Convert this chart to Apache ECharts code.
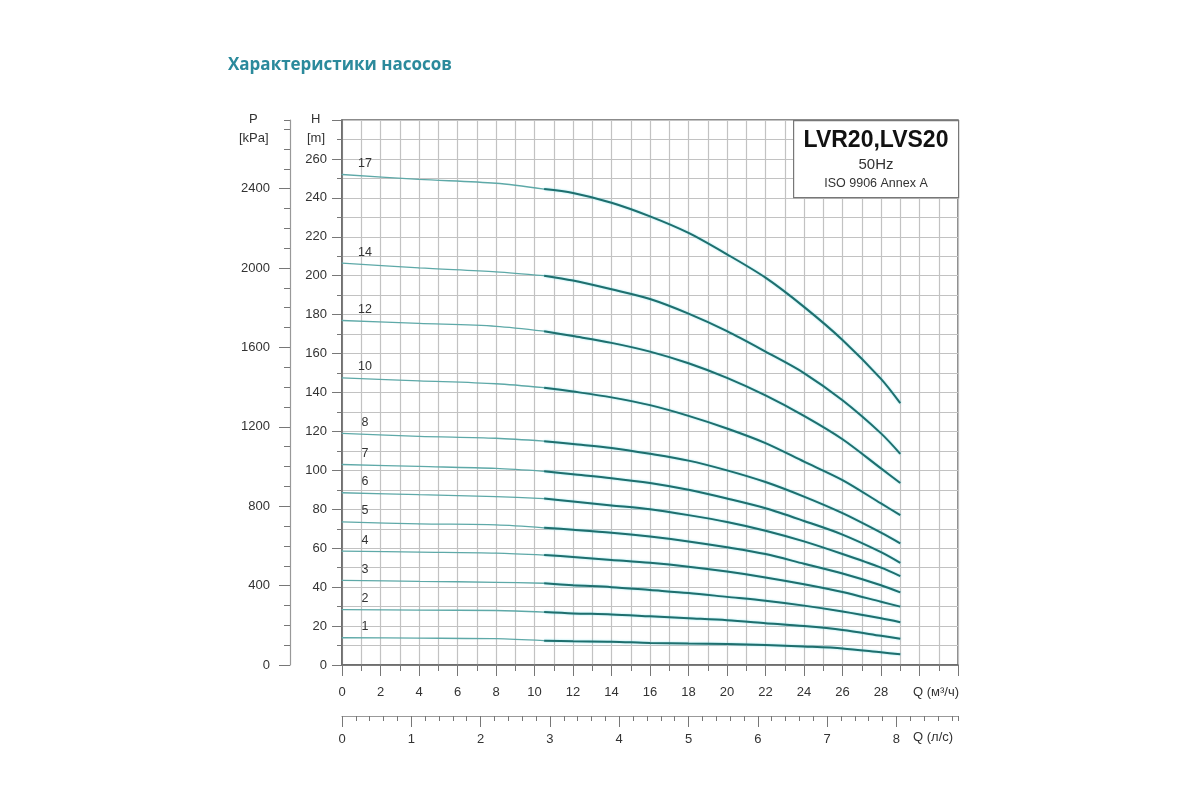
<!DOCTYPE html>
<html>
<head>
<meta charset="utf-8">
<script src="https://cdn.jsdelivr.net/npm/echarts@6/dist/echarts.min.js"></script>
<style>
  html, body { margin: 0; padding: 0; background: #fff; }
  #main { width: 1200px; height: 800px; }
</style>
</head>
<body>
<div id="main"></div>
<script>
// Q (m3/h) points
const flowQ = [0, 4, 8, 10.5, 12, 14, 16, 18, 20, 22, 24, 26, 28, 29]
const head17 = [252, 249.5, 247.5, 244.5, 242.5, 237.5, 230.5, 222, 211, 199, 184, 167, 147, 134.5]
const head14 = [206.5, 204, 202, 200, 197.5, 193, 188, 180.5, 171.5, 161, 150, 136, 119, 108.5]
const head12 = [177, 175.5, 174, 171.5, 169, 165.5, 161, 155, 147.5, 138.5, 128, 116, 101, 93.5]
const head10 = [147.5, 146, 144.5, 142.5, 140.5, 137.5, 133.5, 128, 121.5, 114, 104.5, 95, 83, 77]
const head8 = [119, 117.5, 116.5, 115, 113.5, 111.5, 108.5, 105, 100, 94, 86.5, 78, 68, 62.5]
const head7 = [103, 102, 101, 99.5, 98, 96, 93.5, 90, 85.5, 80.5, 74, 67, 58, 52.5]
const head6 = [88.5, 87.5, 86.5, 85.5, 84, 82, 80, 77, 73.5, 69, 63.5, 57, 50, 45.7]
const head5 = [73.5, 72.5, 72, 70.5, 69.5, 68, 66, 63.5, 60.5, 57, 52, 47, 41, 37.3]
const head4 = [58.5, 58, 57.5, 56.5, 55.5, 54, 52.5, 50.5, 48, 45, 41.5, 37.5, 32.5, 30]
const head3 = [43.5, 43, 42.5, 42, 41, 40, 38.5, 37, 35, 33, 30.5, 27.5, 24, 22]
const head2 = [28.5, 28.2, 28, 27.2, 26.5, 26, 25, 24, 23, 21.5, 20, 18, 15, 13.5]
const head1 = [14, 13.8, 13.5, 12.5, 12.2, 12, 11.3, 11, 10.8, 10.3, 9.5, 8.5, 6.5, 5.5]

const stages = [17, 14, 12, 10, 8, 7, 6, 5, 4, 3, 2, 1]
const heads = [head17, head14, head12, head10, head8, head7, head6, head5, head4, head3, head2, head1]

// axis labels
const pLabels = [0, 400, 800, 1200, 1600, 2000, 2400]
const lsLabels = [0, 1, 2, 3, 4, 5, 6, 7, 8]

const H_MAX = 280
const Q_MAX = 32
const P_MAX = H_MAX * 9.80665
const LS_MAX = Q_MAX / 3.6
const SPLIT_IDX = 3   // light part ends at 10.5 m3/h

const txt = '#333'
const axisGrey = '#777'
const gridGrey = '#c2c2c2'
const font = 'Liberation Sans'

let series = []
stages.forEach((st, i) => {
  let h = heads[i]
  let light = []
  let dark = []
  for (let k = 0; k < flowQ.length; k++) {
    if (k <= SPLIT_IDX) light.push([flowQ[k], h[k]])
    if (k >= SPLIT_IDX) dark.push([flowQ[k], h[k]])
  }
  light[0] = {
    value: light[0],
    label: {
      show: true, formatter: String(st), position: 'top', offset: [23, 1],
      color: txt, fontSize: 12.5, fontFamily: font
    }
  }
  series.push({
    type: 'line', name: st + '-a', data: light, smooth: 0.3,
    symbol: 'circle', symbolSize: 1, showSymbol: true,
    itemStyle: { color: '#6fb3b2' },
    lineStyle: { color: '#5ea9a8', width: 1.3 },
    z: 5
  })
  series.push({
    type: 'line', name: st + '-b', data: dark, smooth: 0.3,
    symbol: 'none',
    lineStyle: { color: '#1f6f6e', width: 2, shadowColor: 'rgba(60,210,225,0.6)', shadowBlur: 2 },
    z: 6
  })
})

const main = document.getElementById('main')
let myChart = echarts.init(main)

myChart.setOption({
  animation: false,
  textStyle: { fontFamily: font },
  title: {
    text: 'Характеристики насосов',
    left: 223, top: 52,
    textStyle: { fontFamily: 'Open Sans', fontSize: 17, fontWeight: 'bold', color: '#2b8a9c' }
  },
  grid: {
    left: 342, top: 120, width: 616, height: 545,
    show: true, borderColor: '#666', borderWidth: 1.5
  },
  xAxis: [
    {
      type: 'value', position: 'bottom', min: 0, max: Q_MAX, interval: 2,
      axisLine: { show: true, onZero: false, lineStyle: { color: '#666', width: 1.5 } },
      axisTick: { show: true, length: 11, lineStyle: { color: axisGrey } },
      minorTick: { show: true, splitNumber: 2, length: 6, lineStyle: { color: axisGrey } },
      splitLine: { show: true, lineStyle: { color: gridGrey, width: 1.2 } },
      minorSplitLine: { show: true, lineStyle: { color: gridGrey, width: 1.2 } },
      axisLabel: {
        margin: 21, color: txt, fontSize: 13, fontFamily: font,
        formatter: v => (v <= 28 ? String(v) : '')
      }
    },
    {
      type: 'value', position: 'bottom', offset: 51, min: 0, max: LS_MAX, interval: 0.2,
      axisLine: { show: true, onZero: false, lineStyle: { color: '#999', width: 1.2 } },
      axisTick: { show: true, length: 5, lineStyle: { color: axisGrey } },
      axisLabel: { show: false },
      splitLine: { show: false }
    },
    {
      type: 'value', position: 'bottom', offset: 51, min: 0, max: LS_MAX,
      axisLine: { show: false, onZero: false },
      axisTick: { show: true, length: 11, customValues: lsLabels, lineStyle: { color: axisGrey } },
      axisLabel: { margin: 17, color: txt, fontSize: 13, fontFamily: font, customValues: lsLabels },
      splitLine: { show: false }
    }
  ],
  yAxis: [
    {
      type: 'value', position: 'left', min: 0, max: H_MAX, interval: 20,
      axisLine: { show: true, onZero: false, lineStyle: { color: '#666', width: 1.5 } },
      axisTick: { show: true, length: 10, lineStyle: { color: axisGrey } },
      minorTick: { show: true, splitNumber: 2, length: 5, lineStyle: { color: axisGrey } },
      splitLine: { show: true, lineStyle: { color: gridGrey, width: 1.2 } },
      minorSplitLine: { show: true, lineStyle: { color: gridGrey, width: 1.2 } },
      axisLabel: {
        margin: 15, color: txt, fontSize: 13, fontFamily: font,
        formatter: v => (v < H_MAX ? String(v) : '')
      }
    },
    {
      type: 'value', position: 'left', offset: 52, min: 0, max: P_MAX, interval: 100,
      axisLine: { show: true, onZero: false, lineStyle: { color: '#999', width: 1.2 } },
      axisTick: { show: true, length: 6, lineStyle: { color: axisGrey } },
      axisLabel: { show: false },
      splitLine: { show: false }
    },
    {
      type: 'value', position: 'left', offset: 52, min: 0, max: P_MAX,
      axisLine: { show: false, onZero: false },
      axisTick: { show: true, length: 11, customValues: pLabels, lineStyle: { color: axisGrey } },
      axisLabel: {
        margin: 20, color: txt, fontSize: 13, fontFamily: font, customValues: pLabels,
        formatter: v => String(Math.round(v))
      },
      splitLine: { show: false }
    }
  ],
  graphic: [
    { type: 'text', left: 249, top: 113, style: { text: 'P', fill: txt, font: '13px "Liberation Sans"' } },
    { type: 'text', left: 239, top: 132, style: { text: '[kPa]', fill: txt, font: '13px "Liberation Sans"' } },
    { type: 'text', left: 311, top: 113, style: { text: 'H', fill: txt, font: '13px "Liberation Sans"' } },
    { type: 'text', left: 307, top: 132, style: { text: '[m]', fill: txt, font: '13px "Liberation Sans"' } },
    { type: 'text', left: 913, top: 686, style: { text: 'Q (м³/ч)', fill: txt, font: '13px "Liberation Sans"' } },
    { type: 'text', left: 913, top: 731, style: { text: 'Q (л/с)', fill: txt, font: '13px "Liberation Sans"' } },
    { type: 'rect', left: 793, top: 120, z: 100,
      shape: { x: 0, y: 0, width: 165, height: 77 },
      style: { fill: '#fff', stroke: '#777', lineWidth: 1.2 } },
    { type: 'text', z: 101, x: 876, y: 141,
      style: { text: 'LVR20,LVS20', fill: '#111', font: 'bold 23px "Liberation Sans"',
        textAlign: 'center', textVerticalAlign: 'middle' } },
    { type: 'text', z: 101, x: 876, y: 165,
      style: { text: '50Hz', fill: txt, font: '15px "Liberation Sans"',
        textAlign: 'center', textVerticalAlign: 'middle' } },
    { type: 'text', z: 101, x: 876, y: 184,
      style: { text: 'ISO 9906 Annex A', fill: txt, font: '12.5px "Liberation Sans"',
        textAlign: 'center', textVerticalAlign: 'middle' } }
  ],
  series: series
})
</script>
</body>
</html>
